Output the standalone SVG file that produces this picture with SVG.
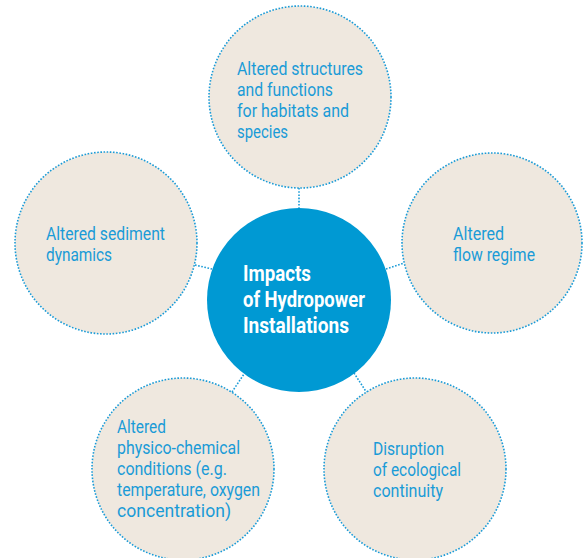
<svg xmlns="http://www.w3.org/2000/svg" width="584" height="558" viewBox="0 0 584 558">
<style>
.outer{fill:#efe8df;stroke:#1a9bd7;stroke-width:1.6;stroke-dasharray:1.6 1.6}
.conn{fill:none;stroke:#1a9bd7;stroke-width:1.6;stroke-dasharray:1.6 1.6}
.lbl{font-family:Roboto,"Liberation Sans",sans-serif;font-size:18px;fill:#1a9bd7}
.ctr{font-family:Roboto,"Liberation Sans",sans-serif;font-size:22px;font-weight:bold;fill:#ffffff}
</style>
<rect width="584" height="558" fill="#ffffff"/>
<g id="connectors">
<line class="conn" x1="299" y1="188" x2="299" y2="208"/>
<line class="conn" x1="195" y1="265" x2="212" y2="269"/>
<line class="conn" x1="386" y1="269" x2="404" y2="263"/>
<line class="conn" x1="232" y1="392" x2="244" y2="374"/>
<line class="conn" x1="354" y1="373" x2="367" y2="393"/>
</g>
<g id="node-top">
<circle class="outer" cx="300" cy="97" r="91"/>
<text class="lbl"><tspan x="237" y="75" textLength="126" lengthAdjust="spacingAndGlyphs">Altered structures</tspan><tspan x="237" y="96" textLength="96" lengthAdjust="spacingAndGlyphs">and functions</tspan><tspan x="237" y="117" textLength="112" lengthAdjust="spacingAndGlyphs">for habitats and</tspan><tspan x="237" y="138" textLength="51" lengthAdjust="spacingAndGlyphs">species</tspan></text>
</g>
<g id="node-left">
<circle class="outer" cx="106" cy="243" r="91"/>
<text class="lbl"><tspan x="46" y="240" textLength="119" lengthAdjust="spacingAndGlyphs">Altered sediment</tspan><tspan x="46" y="261" textLength="66" lengthAdjust="spacingAndGlyphs">dynamics</tspan></text>
</g>
<g id="node-right">
<circle class="outer" cx="492" cy="243" r="90"/>
<text class="lbl"><tspan x="453" y="240" textLength="51" lengthAdjust="spacingAndGlyphs">Altered</tspan><tspan x="453" y="261" textLength="82" lengthAdjust="spacingAndGlyphs">flow regime</tspan></text>
</g>
<g id="node-bottom-left">
<circle class="outer" cx="183" cy="469" r="91"/>
<text class="lbl"><tspan x="117" y="433" textLength="49" lengthAdjust="spacingAndGlyphs">Altered</tspan><tspan x="117" y="454" textLength="123" lengthAdjust="spacingAndGlyphs">physico-chemical</tspan><tspan x="117" y="475" textLength="110" lengthAdjust="spacingAndGlyphs">conditions (e.g.</tspan><tspan x="117" y="496" textLength="143" lengthAdjust="spacingAndGlyphs">temperature, oxygen</tspan><tspan x="117" y="517" textLength="114" lengthAdjust="spacingAndGlyphs">concentration)</tspan></text>
</g>
<g id="node-bottom-right">
<circle class="outer" cx="415" cy="469" r="91"/>
<text class="lbl"><tspan x="373" y="455" textLength="71" lengthAdjust="spacingAndGlyphs">Disruption</tspan><tspan x="373" y="476" textLength="88" lengthAdjust="spacingAndGlyphs">of ecological</tspan><tspan x="373" y="497" textLength="70" lengthAdjust="spacingAndGlyphs">continuity</tspan></text>
</g>
<g id="node-center">
<circle cx="299" cy="300" r="92" fill="#0099d3"/>
<text class="ctr"><tspan x="243" y="281" textLength="68" lengthAdjust="spacingAndGlyphs">Impacts</tspan><tspan x="243" y="307" textLength="122" lengthAdjust="spacingAndGlyphs">of Hydropower</tspan><tspan x="243" y="333" textLength="106" lengthAdjust="spacingAndGlyphs">Installations</tspan></text>
</g>
</svg>
